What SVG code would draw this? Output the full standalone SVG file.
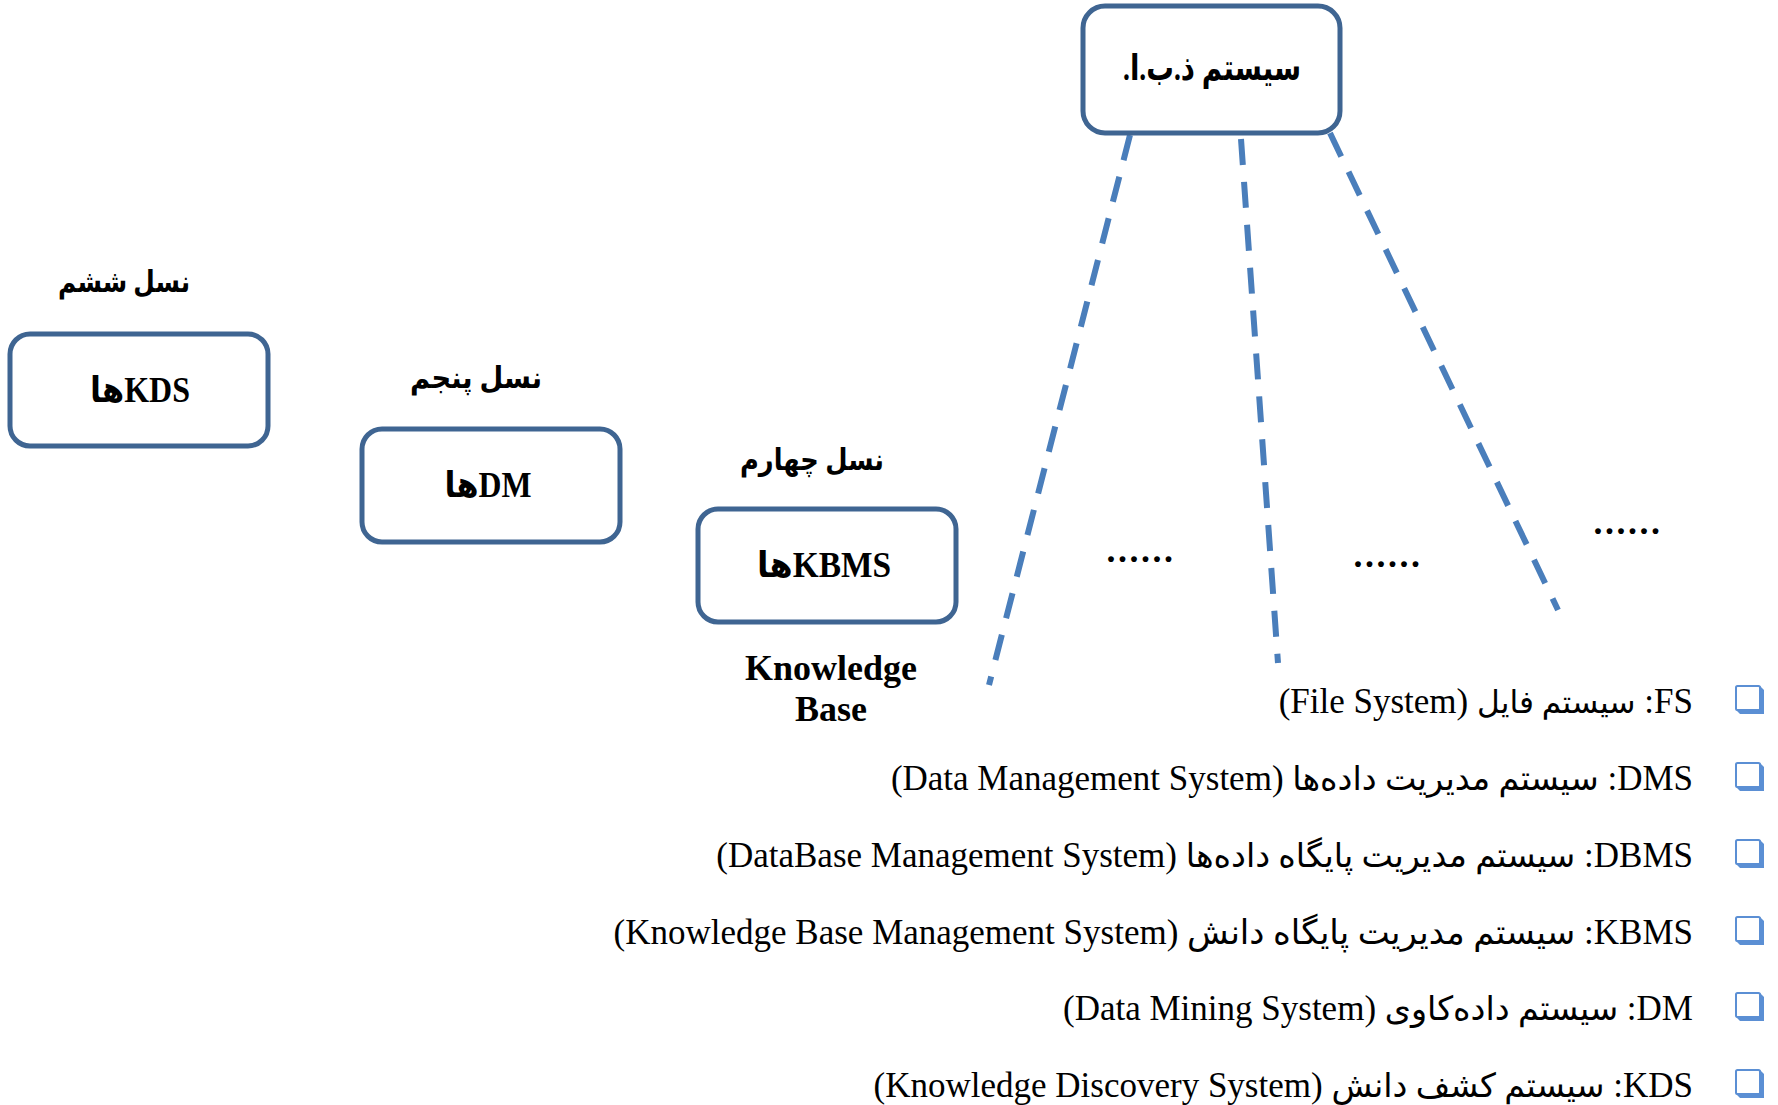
<svg xmlns="http://www.w3.org/2000/svg" width="1778" height="1105" viewBox="0 0 1778 1105">
  <style>
    .box { fill: #ffffff; stroke: #3f6592; stroke-width: 5; }
    .node-text { font-family: "Liberation Serif", "DejaVu Sans", serif; font-weight: bold; font-size: 36px; fill: #000; text-anchor: middle; }
    .gen { font-family: "Liberation Serif", "DejaVu Sans", serif; font-weight: bold; font-size: 30px; fill: #000; text-anchor: middle; }
    .caption { font-family: "Liberation Serif", serif; font-weight: bold; font-size: 36px; fill: #000; text-anchor: middle; }
    .dots { font-family: "Liberation Serif", serif; font-weight: bold; font-size: 36px; letter-spacing: 2.5px; fill: #000; text-anchor: middle; }
    .link { fill: none; stroke: #4a7ebb; stroke-width: 6; stroke-dasharray: 26 17; }
    .legend { font-family: "Liberation Serif", "DejaVu Sans", serif; font-size: 35px; fill: #000; }
    .fa { font-size: 33.4px; }
    .chk-face { fill: #ffffff; stroke: #5b8fd4; stroke-width: 2; }
    .chk-shadow { fill: #5b8fd4; }
  </style>
  <defs>
    <g id="checkbox">
      <path class="chk-shadow" d="M25,1 L29,5 L29,29 L5,29 L1,25 L25,25 Z"/>
      <rect class="chk-face" x="1" y="1" width="24" height="24" rx="1.5"/>
    </g>
  </defs>

  <rect width="1778" height="1105" fill="#ffffff"/>

  <!-- dashed connectors from the root system -->
  <g id="connectors">
    <line class="link" x1="1130" y1="135" x2="989" y2="685"/>
    <line class="link" x1="1241" y1="139" x2="1278" y2="663"/>
    <line class="link" x1="1330" y1="133" x2="1558" y2="610"/>
  </g>

  <!-- root: database system -->
  <g id="node-root">
    <rect class="box" x="1083" y="6" width="257" height="127" rx="22"/>
    <text class="node-text" x="1212" y="80" direction="rtl" font-size="31" textLength="178" lengthAdjust="spacingAndGlyphs">سیستم ذ.ب.ا.</text>
  </g>

  <!-- sixth generation -->
  <g id="node-kds">
    <text class="gen" x="124" y="292" direction="rtl" textLength="132" lengthAdjust="spacingAndGlyphs">نسل ششم</text>
    <rect class="box" x="10" y="334" width="258" height="112" rx="20"/>
    <text class="node-text" x="140" y="402" direction="rtl" textLength="100" lengthAdjust="spacingAndGlyphs">KDSها</text>
  </g>

  <!-- fifth generation -->
  <g id="node-dm">
    <text class="gen" x="476" y="388" direction="rtl" textLength="132" lengthAdjust="spacingAndGlyphs">نسل پنجم</text>
    <rect class="box" x="362" y="429" width="258" height="113" rx="20"/>
    <text class="node-text" x="488" y="497" direction="rtl" textLength="87" lengthAdjust="spacingAndGlyphs">DMها</text>
  </g>

  <!-- fourth generation -->
  <g id="node-kbms">
    <text class="gen" x="812" y="470" direction="rtl" textLength="144" lengthAdjust="spacingAndGlyphs">نسل چهارم</text>
    <rect class="box" x="698" y="509" width="258" height="113" rx="20"/>
    <text class="node-text" x="824" y="577" direction="rtl" textLength="134" lengthAdjust="spacingAndGlyphs">KBMSها</text>
    <text class="caption" x="831" y="680">Knowledge</text>
    <text class="caption" x="831" y="721">Base</text>
  </g>

  <!-- ellipses between branches -->
  <text class="dots" x="1141" y="562">......</text>
  <text class="dots" x="1388" y="567">......</text>
  <text class="dots" x="1628" y="534">......</text>

  <!-- legend -->
  <g id="legend">
    <use href="#checkbox" x="1735" y="685"/>
    <use href="#checkbox" x="1735" y="762"/>
    <use href="#checkbox" x="1735" y="839"/>
    <use href="#checkbox" x="1735" y="916"/>
    <use href="#checkbox" x="1735" y="992"/>
    <use href="#checkbox" x="1735" y="1069"/>
    <text class="legend" x="1693" y="713" direction="rtl" text-anchor="start">FS: <tspan class="fa" style="font-size:31.3px">سیستم فایل</tspan> (File System)</text>
    <text class="legend" x="1693" y="790" direction="rtl" text-anchor="start">DMS: <tspan class="fa">سیستم مدیریت داده‌ها</tspan> (Data Management System)</text>
    <text class="legend" x="1693" y="867" direction="rtl" text-anchor="start">DBMS: <tspan class="fa">سیستم مدیریت پایگاه داده‌ها</tspan> (DataBase Management System)</text>
    <text class="legend" x="1693" y="944" direction="rtl" text-anchor="start">KBMS: <tspan class="fa" style="font-size:34px">سیستم مدیریت پایگاه دانش</tspan> (Knowledge Base Management System)</text>
    <text class="legend" x="1693" y="1020" direction="rtl" text-anchor="start">DM: <tspan class="fa">سیستم داده‌کاوی</tspan> (Data Mining System)</text>
    <text class="legend" x="1693" y="1097" direction="rtl" text-anchor="start">KDS: <tspan class="fa">سیستم کشف دانش</tspan> (Knowledge Discovery System)</text>
  </g>
</svg>
